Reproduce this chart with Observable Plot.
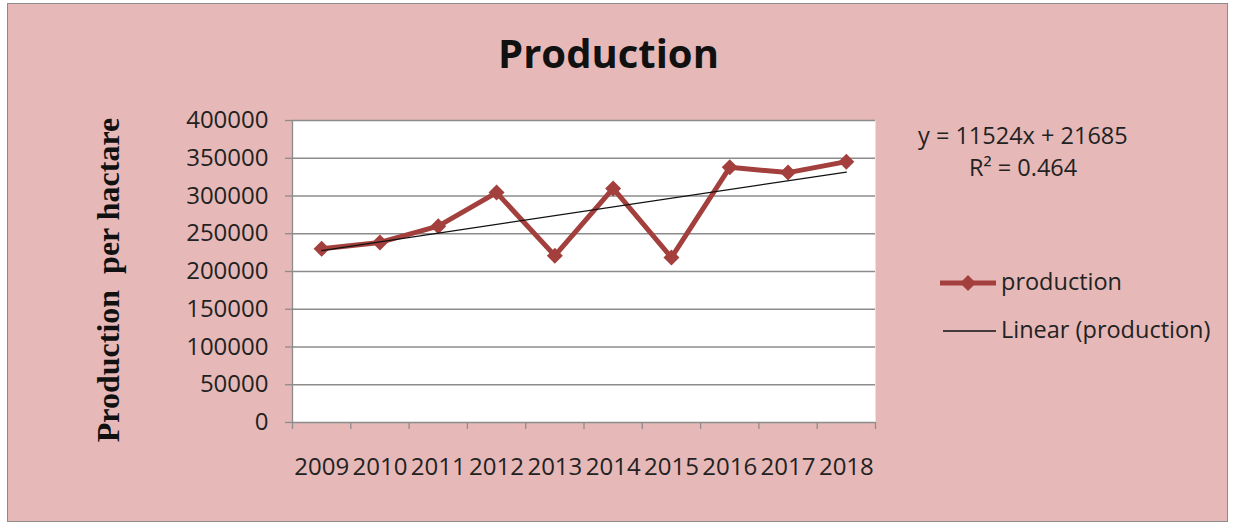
<!DOCTYPE html>
<html>
<head>
<meta charset="utf-8">
<script src="https://cdn.jsdelivr.net/npm/d3@7"></script>
<script src="https://cdn.jsdelivr.net/npm/@observablehq/plot@0.6"></script>
<style>
  html, body { margin: 0; padding: 0; width: 1235px; height: 529px; overflow: hidden; background: #fff; }
  #frame { position: absolute; left: 7px; top: 3px; width: 1219px; height: 517px; background: #E6B9B8; border: 1.5px solid #8c8c8c; }
  #chart { position: absolute; left: 0; top: 0; }
  .txt { position: absolute; font-family: "Open Sans", sans-serif; color: #222; white-space: nowrap; }
  #title { left: -9px; width: 1235px; top: 25px; text-align: center; font-size: 40px; font-weight: bold; color: #111; }
  #ylabel { position: absolute; left: 108px; top: 280px; transform: translate(-50%, -50%) rotate(-90deg); font-family: "Liberation Serif", "Times New Roman", serif; font-weight: bold; font-size: 32px; color: #111; white-space: pre; }
  #eq1 { left: 918px; top: 119px; font-size: 23.5px; }
  #eq2 { left: 969px; top: 151px; font-size: 23.5px; }
  #leg1 { left: 1001px; top: 265px; font-size: 23.5px; }
  #leg2 { left: 1001px; top: 313px; font-size: 23.5px; }
  #legsw { position: absolute; left: 0; top: 0; }
</style>
</head>
<body>
<div id="frame"></div>
<div id="chart"></div>
<div class="txt" id="title"></div>
<div id="ylabel"></div>
<div class="txt" id="eq1"></div>
<div class="txt" id="eq2"></div>
<div class="txt" id="leg1"></div>
<div class="txt" id="leg2"></div>
<script>
// ---- data ----
const years = [2009, 2010, 2011, 2012, 2013, 2014, 2015, 2016, 2017, 2018];
const production = [230000, 238500, 260000, 304500, 221000, 310000, 218500, 338000, 331000, 345500];
const yTicks = [0, 50000, 100000, 150000, 200000, 250000, 300000, 350000, 400000];
const titleText = "Production";
const yLabelText = "Production  per hactare";
const equationText = "y = 11524x + 21685";
const r2Text = "R² = 0.464";
const seriesName = "production";
const trendName = "Linear (production)";

const seriesColor = "#A3403D";
const gridColor = "#8c8c8c";

const data = years.map((y, i) => ({year: y, value: production[i]}));
const bounds = d3.range(years.length + 1).map(i => years[0] - 0.5 + i);

const chart = Plot.plot({
  width: 900,
  height: 529,
  marginLeft: 292,
  marginRight: 25,
  marginTop: 120,
  marginBottom: 107,
  x: {domain: [years[0] - 0.5, years[years.length - 1] + 0.5]},
  y: {domain: [0, 400000]},
  style: {background: "transparent", fontFamily: "Open Sans, sans-serif", fontSize: "24px", color: "#222"},
  marks: [
    Plot.frame({fill: "white", stroke: null}),
    Plot.ruleY(yTicks, {stroke: gridColor, strokeWidth: 1.3}),
    Plot.ruleX([bounds[0]], {stroke: gridColor, strokeWidth: 1.3}),
    Plot.axisY({ticks: yTicks, tickSize: 7, tickPadding: 17, tickFormat: d => String(d), label: null, stroke: gridColor, strokeWidth: 1.3}),
    Plot.axisX({ticks: bounds, tickSize: 7, tickFormat: () => "", label: null, stroke: gridColor, strokeWidth: 1.3}),
    Plot.axisX({ticks: years, tickSize: 0, tickPadding: 35, tickFormat: d => String(d), label: null}),
    Plot.line(data, {x: "year", y: "value", stroke: seriesColor, strokeWidth: 5}),
    Plot.dot(data, {x: "year", y: "value", symbol: "diamond2", r: 7.2, fill: seriesColor, stroke: null}),
    Plot.linearRegressionY(data, {x: "year", y: "value", ci: 0, stroke: "#111", strokeWidth: 1.3})
  ]
});
document.getElementById("chart").appendChild(chart);

document.getElementById("title").textContent = titleText;
document.getElementById("ylabel").textContent = yLabelText;
document.getElementById("eq1").textContent = equationText;
document.getElementById("eq2").textContent = r2Text;
document.getElementById("leg1").textContent = seriesName;
document.getElementById("leg2").textContent = trendName;

// legend swatches
const sw = d3.select("body").append("svg").attr("id", "legsw").attr("width", 1235).attr("height", 529).style("pointer-events", "none");
sw.append("line").attr("x1", 940).attr("x2", 996).attr("y1", 283).attr("y2", 283).attr("stroke", seriesColor).attr("stroke-width", 5);
sw.append("path").attr("d", d3.symbol(d3.symbolDiamond2, 7.2 * 7.2 * Math.PI)()).attr("transform", "translate(968,283)").attr("fill", seriesColor);
sw.append("line").attr("x1", 943).attr("x2", 996).attr("y1", 331).attr("y2", 331).attr("stroke", "#111").attr("stroke-width", 1.3);
</script>
</body>
</html>
